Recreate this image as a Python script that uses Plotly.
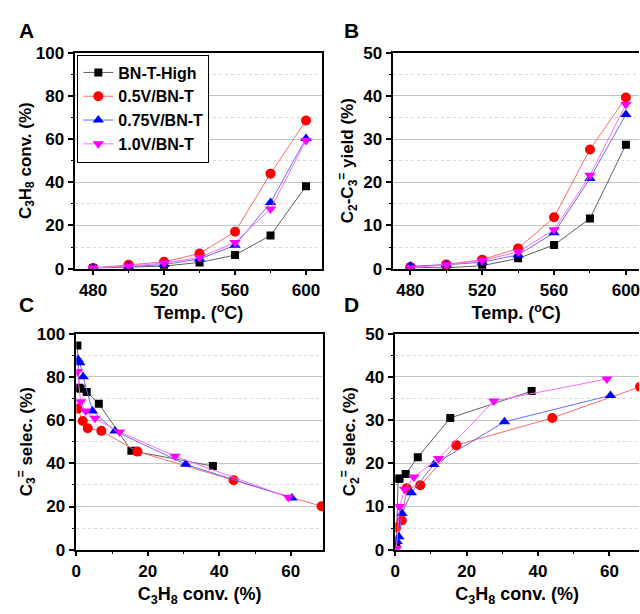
import plotly.graph_objects as go

temps = [480, 500, 520, 540, 560, 580, 600]
names = ["BN-T-High", "0.5V/BN-T", "0.75V/BN-T", "1.0V/BN-T"]

# C3H8 conversion (%) vs temperature
conv_high = [0.3, 0.8, 1.2, 2.9, 6.3, 15.4, 38.2]
conv_05 = [0.3, 1.8, 3.2, 7.0, 17.1, 44.0, 68.6]
conv_075 = [0.5, 1.0, 1.9, 4.5, 10.8, 30.6, 60.3]
conv_10 = [0.3, 1.2, 2.6, 5.2, 12.1, 27.6, 59.3]

# C2-C3= yield (%)
yield_high = [0.3, 0.2, 0.7, 2.4, 5.5, 11.6, 28.7]
yield_05 = [0.4, 1.0, 2.1, 4.7, 11.9, 27.6, 39.6]
yield_075 = [0.6, 0.9, 1.5, 3.2, 8.3, 20.9, 35.7]
yield_10 = [0.2, 0.9, 1.9, 3.9, 9.0, 21.6, 38.0]

# C3= selectivity (%)
c3sel_high = [94.5, 75.0, 74.5, 73.0, 67.5, 45.8, 38.7]
c3sel_05 = [65.3, 59.6, 56.2, 55.0, 45.4, 32.2, 20.1]
c3sel_075 = [88.0, 86.5, 80.0, 64.2, 54.9, 39.5, 23.9]
c3sel_10 = [82.5, 68.5, 64.2, 60.8, 54.5, 43.3, 24.3]

# C2= selectivity (%)
c2sel_high = [1.0, 16.4, 16.5, 17.5, 21.4, 30.5, 36.7]
c2sel_05 = [5.2, 6.8, 14.2, 14.9, 24.2, 30.5, 37.7]
c2sel_075 = [1.9, 3.0, 8.4, 13.2, 19.7, 29.6, 35.7]
c2sel_10 = [0.3, 10.0, 14.0, 16.8, 21.1, 34.4, 39.5]

marker_colors = ["#000000", "#ff0000", "#0000ff", "#ff00ff"]
line_colors = ["#606060", "#ff6a6a", "#6a6aff", "#ff6aff"]
symbols = ["square", "circle", "triangle-up", "triangle-down"]
msizes = [8, 10, 10, 10]

convs = [conv_high, conv_05, conv_075, conv_10]
yields = [yield_high, yield_05, yield_075, yield_10]
c3sels = [c3sel_high, c3sel_05, c3sel_075, c3sel_10]
c2sels = [c2sel_high, c2sel_05, c2sel_075, c2sel_10]

W, H = 640, 614
FONT = "Arial, Liberation Sans, sans-serif"

fig = go.Figure()

def add(xs, ys, i, xa, ya, legend):
    fig.add_trace(go.Scatter(
        x=xs, y=ys, mode="lines+markers", name=names[i],
        xaxis=xa, yaxis=ya, showlegend=legend,
        line=dict(color=line_colors[i], width=1),
        marker=dict(color=marker_colors[i], symbol=symbols[i], size=msizes[i],
                    line=dict(width=0)),
    ))

for i in range(4):
    add(temps, convs[i], i, "x", "y", True)
for i in range(4):
    add(temps, yields[i], i, "x2", "y2", False)
for i in range(4):
    add(convs[i], c3sels[i], i, "x3", "y3", False)
for i in range(4):
    add(convs[i], c2sels[i], i, "x4", "y4", False)

def px_x(a, b):
    return [a / W, min(b / W, 1.0)]

def px_y(top, bottom):
    return [1 - bottom / H, 1 - top / H]

tickfont = dict(family=FONT, size=17, color="black", weight="bold")
xtitlefont = dict(family=FONT, size=18, color="black", weight="bold")
ytitlefont = dict(family=FONT, size=17, color="black", weight="bold")

def xaxis(dom, rng, dtick, minor, title, anchor, standoff):
    return dict(domain=dom, range=rng, anchor=anchor, dtick=dtick,
                showline=True, linecolor="black", linewidth=1.5, mirror=True,
                ticks="outside", ticklen=5, tickwidth=1.5, tickcolor="black",
                showgrid=False, zeroline=False, tickfont=tickfont,
                ticklabeloverflow="allow",
                minor=dict(dtick=minor, ticks="outside", ticklen=3,
                           tickcolor="black", tickwidth=1, showgrid=False),
                title=dict(text=title, font=xtitlefont, standoff=standoff))

def yaxis(dom, rng, dtick, minor, title, anchor, standoff, mirror=True):
    return dict(domain=dom, range=rng, anchor=anchor, dtick=dtick,
                showline=True, linecolor="black", linewidth=1.5, mirror=mirror,
                ticks="outside", ticklen=6, tickwidth=1.5, tickcolor="black",
                showgrid=True, gridcolor="#c4c4c4", gridwidth=1,
                zeroline=False, tickfont=tickfont,
                ticklabeloverflow="allow",
                minor=dict(dtick=minor, ticks="outside", ticklen=3,
                           tickcolor="black", tickwidth=1, showgrid=True,
                           gridcolor="#d8d8d8", griddash="dot", gridwidth=1),
                title=dict(text=title, font=ytitlefont, standoff=standoff))

temp_title = "Temp. (<sup>o</sup>C)"
conv_title = "C<sub>3</sub>H<sub>8</sub> conv. (%)"

fig.update_layout(
    width=W, height=H,
    margin=dict(l=0, r=0, t=0, b=0),
    paper_bgcolor="white", plot_bgcolor="white",
    font=dict(family=FONT, size=17, color="black", weight="bold"),
    xaxis=xaxis(px_x(71, 320), [470, 609], 40, 20, temp_title, "y", 8),
    yaxis=yaxis(px_y(45, 268), [0, 100], 20, 10, conv_title, "x", 0),
    xaxis2=xaxis(px_x(392, 640), [470.5, 607.3], 40, 20, temp_title, "y2", 8),
    yaxis2=yaxis(px_y(45, 268), [0, 50], 10, 5,
                 "C<sub>2</sub>-C<sub>3</sub><sup>=</sup> yield (%)", "x2", 5, mirror=False),
    xaxis3=xaxis(px_x(72, 321), [0, 69], 20, 10, conv_title, "y3", 8),
    yaxis3=yaxis(px_y(335, 558), [0, 100], 20, 10,
                 "C<sub>3</sub><sup>=</sup> selec. (%)", "x3", 0),
    xaxis4=xaxis(px_x(394, 640), [0, 68.3], 20, 10, conv_title, "y4", 8),
    yaxis4=yaxis(px_y(335, 558), [0, 50], 10, 5,
                 "C<sub>2</sub><sup>=</sup> selec. (%)", "x4", 5, mirror=False),
    legend=dict(x=73 / W, y=1 - 47 / H, xanchor="left", yanchor="top",
                bgcolor="white", bordercolor="black", borderwidth=1,
                font=dict(family=FONT, size=16, color="black", weight="bold"),
                itemwidth=30, tracegroupgap=0),
)

for lab, x, y in [("A", 21.5, 22), ("B", 349.5, 22), ("C", 21.5, 305), ("D", 349.5, 305)]:
    fig.add_annotation(text=lab, x=x / W, y=1 - y / H, xref="paper", yref="paper",
                       showarrow=False, xanchor="center", yanchor="middle",
                       font=dict(family=FONT, size=21, color="black", weight="bold"))

fig.write_html(
    "out.html",
    config={"displayModeBar": False},
    post_script="document.body.style.margin='0';document.body.style.overflow='hidden';",
)
